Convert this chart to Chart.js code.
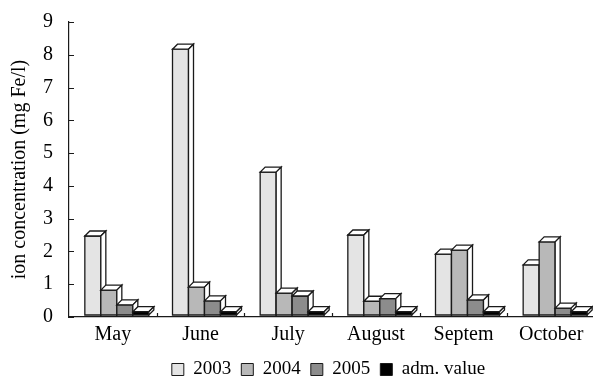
<!DOCTYPE html>
<html><head><meta charset="utf-8">
<script src="https://cdn.jsdelivr.net/npm/chart.js@4.4.1/dist/chart.umd.min.js"></script>
<style>
html,body{margin:0;padding:0;overflow:hidden;background:#fff;width:593px;height:379px}
#wrap{position:absolute;left:0;top:0;width:636px;height:379px}
</style></head>
<body><div id="wrap"><canvas id="c" width="636" height="379"></canvas></div>
<script>
const categories = ['May', 'June', 'July', 'August', 'Septem', 'October'];
const seriesLabels = ['2003', '2004', '2005', 'adm. value'];
const values2003 = [2.41, 8.11, 4.36, 2.44, 1.86, 1.53];
const values2004 = [0.76, 0.85, 0.67, 0.42, 1.98, 2.23];
const values2005 = [0.31, 0.43, 0.58, 0.50, 0.46, 0.21];
const valuesAdm = [0.10, 0.10, 0.10, 0.10, 0.10, 0.10];
const yTicks = [0, 1, 2, 3, 4, 5, 6, 7, 8, 9];
const seriesColors = ['#e4e4e4', '#b8b8b8', '#8c8c8c', '#000000'];

const DEPTH = 5, DX = 4, DY = -2;
const LINE = '#1a1a1a';
const LEGEND_SHIFT = 31;

const bars3d = {
  id: 'bars3d',
  afterLayout(chart) {
    const lg = chart.legend;
    if (lg) { lg.left += LEGEND_SHIFT; lg.right += LEGEND_SHIFT; }
  },
  beforeDatasetDraw() { return false; },
  afterDatasetsDraw(chart) {
    const ctx = chart.ctx;
    const n = chart.data.datasets.length;
    ctx.save();
    ctx.lineWidth = 1.3;
    ctx.strokeStyle = LINE;
    ctx.lineJoin = 'miter';
    for (let j = 0; j < categories.length; j++) {
      for (let i = 0; i < n; i++) {
        const el = chart.getDatasetMeta(i).data[j];
        const p = el.getProps(['x', 'y', 'base', 'width'], true);
        const L = p.x - p.width / 2 + DX, R = p.x + p.width / 2 + DX;
        const T = p.y + DY, B = p.base + DY;
        ctx.fillStyle = seriesColors[i];
        ctx.beginPath(); ctx.rect(L, T, R - L, B - T); ctx.fill(); ctx.stroke();
        ctx.fillStyle = '#ffffff';
        ctx.beginPath();
        ctx.moveTo(L, T); ctx.lineTo(L + DEPTH, T - DEPTH); ctx.lineTo(R + DEPTH, T - DEPTH); ctx.lineTo(R, T);
        ctx.closePath(); ctx.fill(); ctx.stroke();
        ctx.beginPath();
        ctx.moveTo(R, T); ctx.lineTo(R + DEPTH, T - DEPTH); ctx.lineTo(R + DEPTH, B - DEPTH); ctx.lineTo(R, B);
        ctx.closePath(); ctx.fill(); ctx.stroke();
      }
    }
    const ys = chart.scales.y, xs = chart.scales.x;
    ctx.lineWidth = 1.2;
    ctx.beginPath();
    ys.ticks.forEach(t => {
      const py = Math.round(ys.getPixelForValue(t.value)) + 0.5;
      ctx.moveTo(ys.right, py); ctx.lineTo(ys.right + 5, py);
    });
    for (let k = 1; k < categories.length; k++) {
      const px = Math.round((xs.getPixelForValue(k - 1) + xs.getPixelForValue(k)) / 2) + 0.5;
      ctx.moveTo(px, xs.top); ctx.lineTo(px, xs.top - 4);
    }
    ctx.stroke();
    ctx.restore();
  }
};

const serif = 'Liberation Serif';
const datasets = [values2003, values2004, values2005, valuesAdm].map((vals, i) => ({
  label: seriesLabels[i],
  data: vals,
  backgroundColor: seriesColors[i],
  borderColor: LINE,
  borderWidth: 1
}));

new Chart(document.getElementById('c'), {
  type: 'bar',
  data: { labels: categories, datasets },
  plugins: [bars3d],
  options: {
    responsive: false,
    animation: false,
    devicePixelRatio: 1,
    layout: { padding: { top: 22, right: 41, bottom: -10, left: 0 } },
    datasets: { bar: { categoryPercentage: 0.73, barPercentage: 1 } },
    plugins: {
      legend: {
        position: 'bottom',
        labels: { font: { family: serif, size: 19 }, color: '#000', boxWidth: 12, boxHeight: 12, padding: 10 }
      },
      tooltip: { enabled: false }
    },
    scales: {
      x: {
        grid: { display: false, drawTicks: false },
        border: { display: true, color: LINE, width: 1.2 },
        ticks: { font: { family: serif, size: 20 }, color: '#000', padding: 6, maxRotation: 0 },
        afterFit(s) { s.height = 33; }
      },
      y: {
        min: 0, max: 9,
        afterBuildTicks(s) { s.ticks = yTicks.map(v => ({ value: v })); },
        grid: { display: false, drawTicks: false },
        border: { display: true, color: LINE, width: 1.2 },
        ticks: { font: { family: serif, size: 20 }, color: '#000', padding: 16 },
        title: { display: true, text: 'ion concentration (mg Fe/l)', font: { family: serif, size: 20 }, color: '#000', padding: { top: 8, bottom: 0 } },
        afterFit(s) { s.width = 69; s.paddingTop = 0; s.paddingBottom = 0; }
      }
    }
  }
});
</script>
</body></html>
